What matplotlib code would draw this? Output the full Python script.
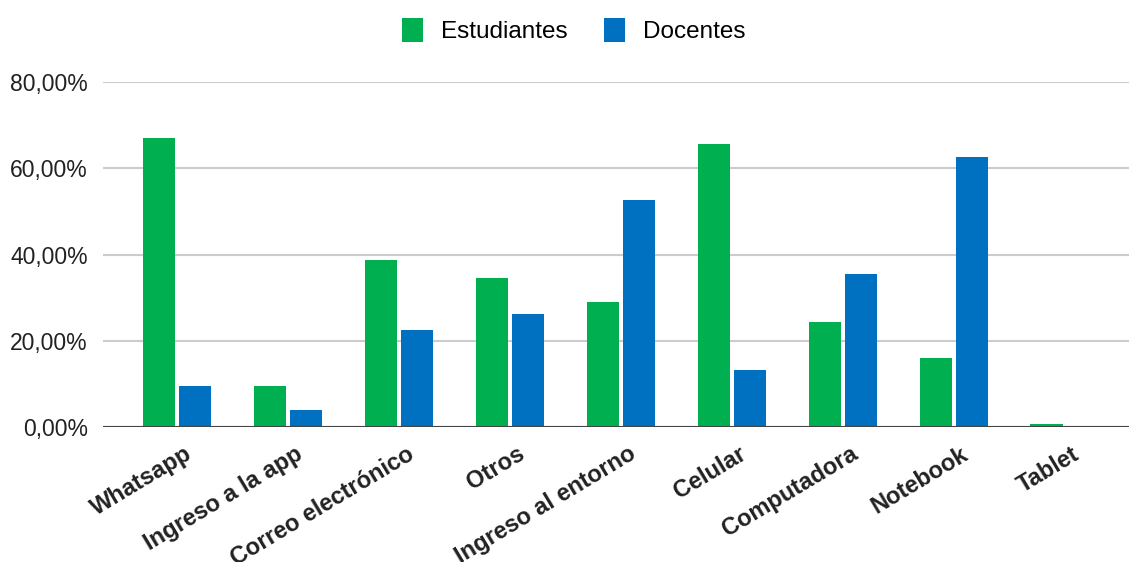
import numpy as np
import matplotlib.pyplot as plt
import matplotlib.transforms as mtransforms
from matplotlib.ticker import FuncFormatter

plt.rcParams['font.family'] = ['Liberation Sans', 'DejaVu Sans']

categorias = ['Whatsapp', 'Ingreso a la app', 'Correo electrónico', 'Otros',
              'Ingreso al entorno', 'Celular', 'Computadora', 'Notebook', 'Tablet']
estudiantes = [67.0, 9.5, 38.7, 34.6, 29.0, 65.6, 24.3, 16.0, 0.7]
docentes = [9.5, 3.9, 22.5, 26.2, 52.6, 13.2, 35.5, 62.6, 0.0]

fig = plt.figure(figsize=(11.29, 5.62), dpi=100)
ax = fig.add_axes([0.0912, 0.2402, 0.9088, 0.6139])

x = np.arange(len(categorias))
w = 0.29
ax.bar(x - w / 2 - 0.018, estudiantes, w, color='#00b050', label='Estudiantes', zorder=3)
ax.bar(x + w / 2 + 0.018, docentes, w, color='#0070c0', label='Docentes', zorder=3)

ax.set_ylim(0, 80)
ax.set_xlim(-0.667, 8.58)
ax.set_yticks([0, 20, 40, 60, 80])
ax.yaxis.set_major_formatter(FuncFormatter(lambda v, p: f'{v:.2f}%'.replace('.', ',')))
ax.grid(axis='y', color='#cccccc', linewidth=1.5, zorder=0)
ax.axhline(0, color='#444444', linewidth=1.5, zorder=4)
for s in ax.spines.values():
    s.set_visible(False)
ax.tick_params(axis='both', length=0, labelsize=16.5, colors='#222222')
ax.tick_params(axis='y', pad=11)
ax.set_xticks(x)
ax.set_xticklabels(categorias, rotation=31, ha='right', rotation_mode='anchor',
                   fontweight='bold', fontsize=17)
ax.tick_params(axis='x', pad=11)
# desplazar etiquetas un poco a la derecha
off = mtransforms.ScaledTranslation(0.07, 0.0, fig.dpi_scale_trans)
for lbl in ax.get_xticklabels():
    lbl.set_transform(lbl.get_transform() + off)

ax.legend(loc='upper center', bbox_to_anchor=(0.459, 1.25), ncol=2, frameon=False,
          fontsize=17.5, handlelength=0.85, handleheight=1.15, columnspacing=1.5,
          handletextpad=0.75)

fig.savefig('out.png', dpi=100)
